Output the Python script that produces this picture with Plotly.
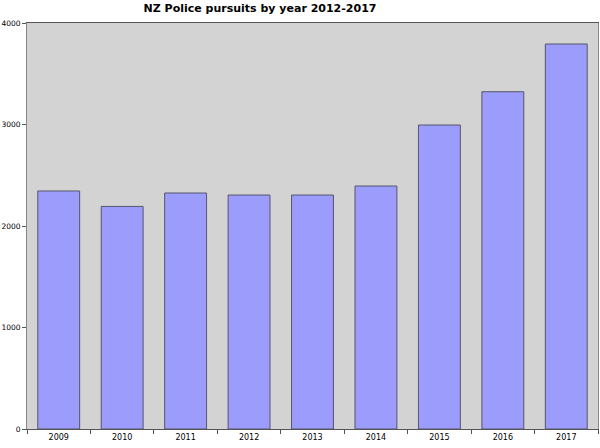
import plotly.graph_objects as go

years = ["2009", "2010", "2011", "2012", "2013", "2014", "2015", "2016", "2017"]
pursuits = [2345, 2193, 2325, 2305, 2305, 2394, 2995, 3323, 3793]
y_ticks = [0, 1000, 2000, 3000, 4000]

fig = go.Figure(
    go.Bar(
        x=years,
        y=pursuits,
        marker=dict(color="#9c9cfc", line=dict(color="#55556a", width=1)),
    )
)

fig.update_layout(
    width=600,
    height=448,
    margin=dict(l=27, r=2, t=23, b=19, autoexpand=False),
    paper_bgcolor="white",
    plot_bgcolor="#d3d3d3",
    bargap=0.34,
    showlegend=False,
    font=dict(family="DejaVu Sans", size=8, color="black"),
    title=dict(
        text="<b>NZ Police pursuits by year 2012-2017</b>",
        font=dict(family="DejaVu Sans", size=11, color="black"),
        x=260 / 600,
        xanchor="center",
        xref="container",
        y=1 - 8 / 448,
        yanchor="middle",
    ),
    xaxis=dict(
        type="category",
        tickson="boundaries",
        ticks="outside",
        ticklen=4,
        tickcolor="#555555",
        showline=True,
        linecolor="#555555",
        mirror=True,
        showgrid=False,
        automargin=False,
        tickfont=dict(size=8),
    ),
    yaxis=dict(
        range=[0, 4000],
        tickvals=y_ticks,
        ticktext=[str(v) for v in y_ticks],
        ticks="outside",
        ticklen=4,
        tickcolor="#555555",
        showline=True,
        linecolor="#888888",
        mirror=True,
        showgrid=False,
        zeroline=False,
        automargin=False,
        tickfont=dict(size=7.5),
    ),
)

fig.write_html("out.html", config={"displayModeBar": False})

# remove the default browser page margin so the figure sits at the window's top-left
with open("out.html", "r", encoding="utf-8") as f:
    html = f.read()
html = html.replace("<head>", "<head><style>html,body{margin:0;padding:0;overflow:hidden;}</style>", 1)
with open("out.html", "w", encoding="utf-8") as f:
    f.write(html)
